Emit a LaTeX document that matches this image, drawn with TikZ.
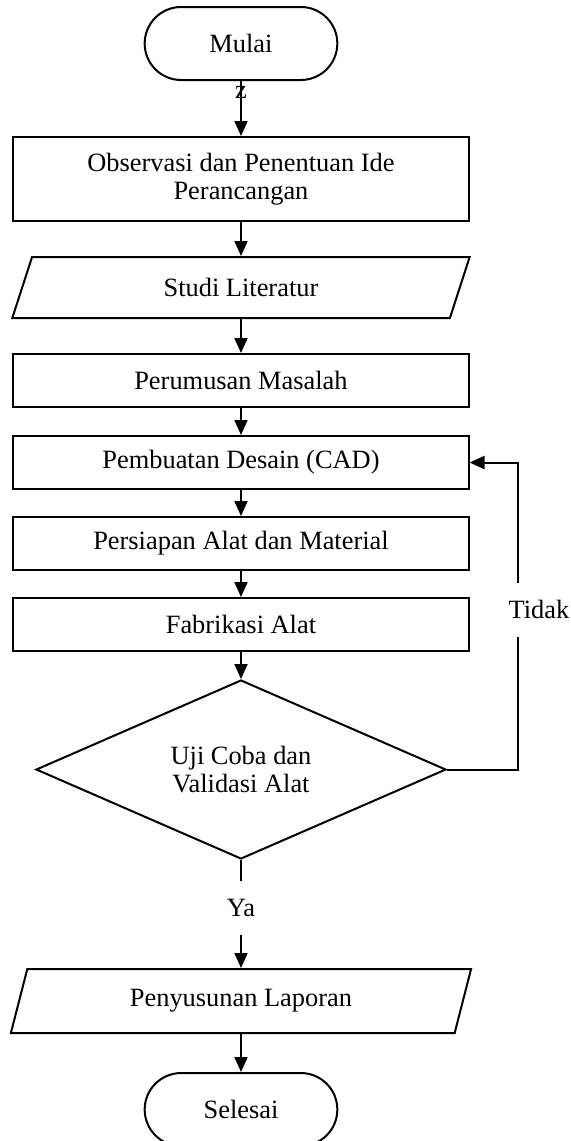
\documentclass[tikz,border=0pt]{standalone}
\usepackage{fontspec}
\setmainfont{Liberation Serif}
\usetikzlibrary{positioning,shapes.geometric,shapes.misc,arrows.meta}

\begin{document}
\begin{tikzpicture}[
			font=\fontsize{13.2}{14}\selectfont,
			line width=1pt,
			term/.style={draw,rounded rectangle,minimum width=103pt,minimum height=36.5pt},
			box/.style={draw,rectangle,minimum width=227.5pt,minimum height=26.5pt,align=center},
			io/.style={draw,trapezium,trapezium left angle=76,trapezium right angle=104,trapezium stretches=true,minimum width=230.5pt,minimum height=30.5pt},
			decision/.style={draw,diamond,aspect=2.2,minimum width=205pt,minimum height=89.5pt,align=center,inner sep=0pt},
			gaplabel/.style={fill=white,minimum height=27pt},
			arrow/.style={-{Triangle[length=7.5pt,width=6.5pt]}}]
			\useasboundingbox (-120.5pt,21.75pt) rectangle (165pt,-548.75pt);
			\node (start) [term] {Mulai};
			\node (zmark) [below=2pt of start.south,inner sep=0pt] {z};
			\node (observe) [box,below=27.5pt of start,minimum height=42pt] {Observasi dan Penentuan Ide \\ Perancangan};
			\node (study) [io,below=17pt of observe] {Studi Literatur};
			\node (problem) [box,below=17pt of study] {Perumusan Masalah};
			\node (design) [box,below=13.5pt of problem] {Pembuatan Desain (CAD)};
			\node (prep) [box,below=13pt of design] {Persiapan Alat dan Material};
			\node (fab) [box,below=13pt of prep] {Fabrikasi Alat};
			\node (check) [decision,below=13.5pt of fab] {Uji Coba dan \\ Validasi Alat};
			\node (report) [io,below=54pt of check,minimum height=32pt] {Penyusunan Laporan};
			\node (finish) [term,below=19pt of report] {Selesai};

			\draw[arrow] (start.south) -- (observe.north);
			\draw[arrow] (observe.south) -- (study.north);
			\draw[arrow] (study.south) -- (problem.north);
			\draw[arrow] (problem.south) -- (design.north);
			\draw[arrow] (design.south) -- (prep.north);
			\draw[arrow] (prep.south) -- (fab.north);
			\draw[arrow] (fab.south) -- (check.north);
			\draw[arrow] (check.east) -- ++(35.5pt,0) |- node[gaplabel,pos=.26,xshift=10.5pt] {Tidak} (design.east);
			\draw[arrow] (check.south) -- node[gaplabel,pos=.44] {Ya} (report.north);
			\draw[arrow] (report.south) -- (finish.north);
		\end{tikzpicture}
\end{document}
